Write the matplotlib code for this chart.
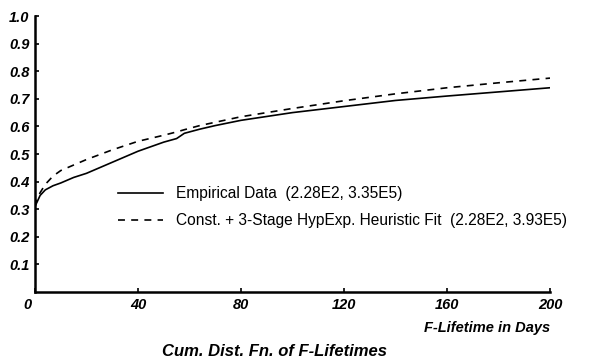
import matplotlib
matplotlib.use('Agg')
import matplotlib.pyplot as plt
from matplotlib import transforms

plt.rcParams['font.family'] = ['Liberation Sans', 'DejaVu Sans']
plt.rcParams['lines.scale_dashes'] = False

# values
days = [0, 1, 2, 4, 7, 10, 15, 20, 30, 40, 50, 55, 58, 64, 70, 80,
        100, 120, 140, 160, 180, 200]
empirical = [0.31, 0.33, 0.35, 0.37, 0.385, 0.395, 0.415, 0.43, 0.47,
             0.51, 0.543, 0.556, 0.575, 0.59, 0.603, 0.622, 0.65, 0.672,
             0.694, 0.71, 0.725, 0.74]
fit = [0.31, 0.34, 0.36, 0.39, 0.42, 0.44, 0.46, 0.48, 0.515, 0.546,
       0.568, 0.58, 0.588, 0.603, 0.615, 0.635, 0.665, 0.693, 0.718,
       0.74, 0.758, 0.775]

x_ticks = [0, 40, 80, 120, 160, 200]
y_ticks = [0.1, 0.2, 0.3, 0.4, 0.5, 0.6, 0.7, 0.8, 0.9, 1.0]

label_emp = 'Empirical Data  (2.28E2, 3.35E5)'
label_fit = 'Const. + 3-Stage HypExp. Heuristic Fit  (2.28E2, 3.93E5)'

fig = plt.figure(figsize=(6, 3.64), dpi=100)
ax = fig.add_axes([35 / 600, 1 - 292 / 364, 515 / 600, 276 / 364])

ax.plot(days, empirical, color='black', lw=1.2, label=label_emp)
ax.plot(days, fit, color='black', lw=1.2, linestyle=(0, (5, 4.5)),
        label=label_fit)

ax.set_xlim(0, 200)
ax.set_ylim(0, 1.0)
ax.set_xticks(x_ticks)
ax.set_yticks(y_ticks)
ax.set_xticklabels([str(t) for t in x_ticks])
ax.set_yticklabels(['%.1f' % t for t in y_ticks])

for side in ['top', 'right']:
    ax.spines[side].set_visible(False)
for side in ['left', 'bottom']:
    ax.spines[side].set_linewidth(1.8)

ax.tick_params(direction='in', length=3, width=1.2, labelsize=10.5, pad=4)
for lbl in ax.get_xticklabels() + ax.get_yticklabels():
    lbl.set_fontweight('bold')
    lbl.set_fontstyle('italic')
# nudge the "0" left of the corner, as in the original
zero = ax.get_xticklabels()[0]
zero.set_transform(zero.get_transform() +
                   transforms.ScaledTranslation(-8 / 100, 0, fig.dpi_scale_trans))

ax.legend(loc='upper left', bbox_to_anchor=(0.161, 0.384), frameon=False,
          fontsize=11.2, handlelength=2.9, handletextpad=0.85, labelspacing=0.8,
          borderpad=0, borderaxespad=0)

fig.text(550 / 600, 1 - 328 / 364, 'F-Lifetime in Days', ha='right', va='center',
         fontsize=10.5, fontweight='bold', fontstyle='italic')
fig.text(275 / 600, 1 - 352 / 364, 'Cum. Dist. Fn. of F-Lifetimes', ha='center',
         va='center', fontsize=12, fontweight='bold', fontstyle='italic')

fig.savefig('out.png', dpi=100)
